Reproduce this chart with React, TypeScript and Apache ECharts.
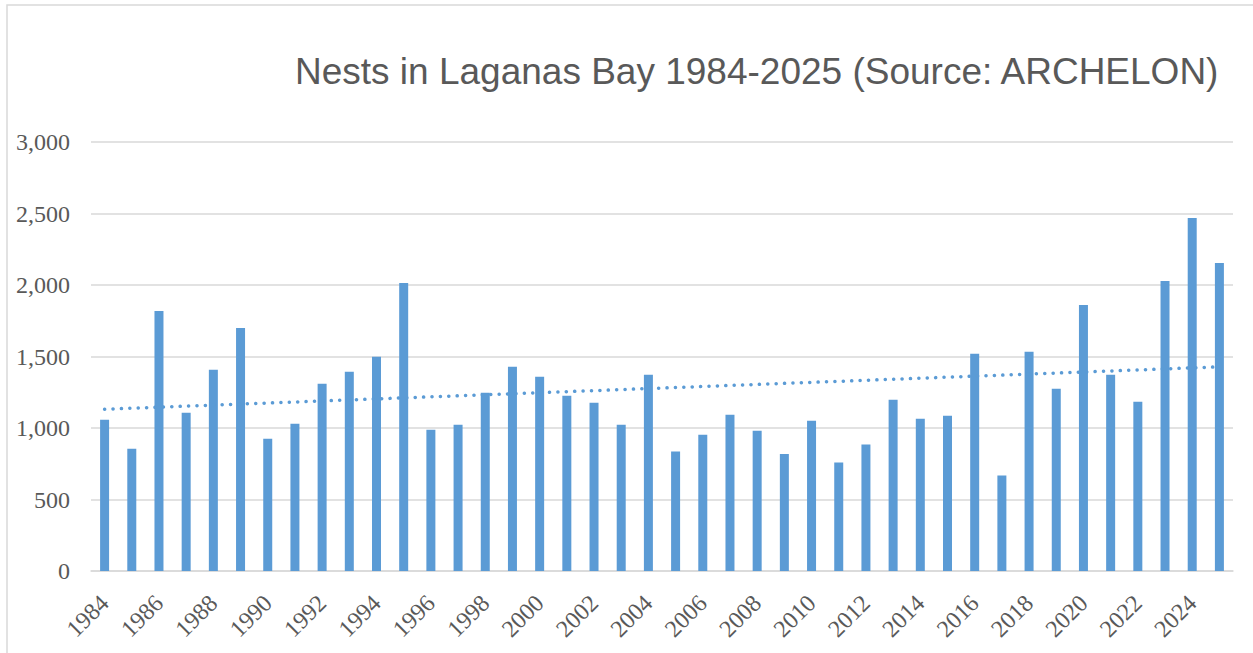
import React, { useEffect, useRef } from "react";
import * as echarts from "echarts";

const years: string[] = [
  "1984", "1985", "1986", "1987", "1988", "1989", "1990", "1991", "1992", "1993",
  "1994", "1995", "1996", "1997", "1998", "1999", "2000", "2001", "2002", "2003",
  "2004", "2005", "2006", "2007", "2008", "2009", "2010", "2011", "2012", "2013",
  "2014", "2015", "2016", "2017", "2018", "2019", "2020", "2021", "2022", "2023",
  "2024", "2025",
];

const nests: number[] = [
  1058, 855, 1819, 1107, 1407, 1700, 925, 1030, 1309, 1393,
  1498, 2014, 988, 1023, 1246, 1428, 1358, 1226, 1177, 1023,
  1372, 835, 953, 1093, 981, 819, 1051, 758, 884, 1198,
  1065, 1086, 1519, 667, 1533, 1274, 1861, 1372, 1184, 2028,
  2468, 2154,
];

const titleText = "Nests in Laganas Bay 1984-2025 (Source: ARCHELON)";

// Linear trendline (least squares) derived from the data
function linearTrend(vals: number[]): number[] {
  const n = vals.length;
  let sx = 0, sy = 0, sxx = 0, sxy = 0;
  vals.forEach((y, i) => {
    const x = i + 1;
    sx += x; sy += y; sxx += x * x; sxy += x * y;
  });
  const b = (n * sxy - sx * sy) / (n * sxx - sx * sx);
  const a = (sy - b * sx) / n;
  return vals.map((_, i) => a + b * (i + 1));
}

export default function App() {
  const ref = useRef<HTMLDivElement>(null);
  useEffect(() => {
    if (!ref.current) return;
    const chart = echarts.init(ref.current, null, { renderer: "svg" });
    const trend = linearTrend(nests);
    chart.setOption({
      animation: false,
      backgroundColor: "#ffffff",
      title: {
        text: titleText,
        left: 290,
        top: 48,
        textStyle: {
          fontFamily: "Liberation Sans, Arial, sans-serif",
          fontSize: 37,
          fontWeight: "normal",
          color: "#595959",
        },
      },
      graphic: [
        {
          type: "rect",
          shape: { x: 7, y: 5, width: 1262, height: 700 },
          style: { fill: "none", stroke: "#d9d9d9", lineWidth: 1.5 },
          silent: true,
        },
      ],
      grid: { left: 91, right: 20, top: 142, bottom: 82 },
      xAxis: {
        type: "category",
        data: years,
        boundaryGap: true,
        axisLine: { lineStyle: { color: "#d9d9d9", width: 1.5 } },
        axisTick: { show: false },
        axisLabel: {
          interval: 1,
          rotate: 45,
          margin: 28,
          fontFamily: "Liberation Serif, Times New Roman, serif",
          fontSize: 24,
          color: "#595959",
        },
      },
      yAxis: {
        type: "value",
        min: 0,
        max: 3000,
        interval: 500,
        axisLine: { show: false },
        axisTick: { show: false },
        splitLine: { lineStyle: { color: "#d9d9d9", width: 1.5 } },
        axisLabel: {
          margin: 21,
          fontFamily: "Liberation Serif, Times New Roman, serif",
          fontSize: 24,
          color: "#595959",
          formatter: (v: number) => v.toLocaleString("en-US"),
        },
      },
      series: [
        {
          type: "bar",
          data: nests,
          barWidth: 9,
          itemStyle: { color: "#5b9bd5" },
        },
        {
          type: "line",
          data: trend,
          symbol: "none",
          lineStyle: {
            color: "#5b9bd5",
            width: 3.5,
            type: [0.1, 8.3],
            cap: "round",
          },
          z: 3,
        },
      ],
    });
    return () => chart.dispose();
  }, []);
  return (
    <div
      ref={ref}
      style={{ position: "absolute", left: 0, top: 0, width: 1253, height: 653 }}
    />
  );
}
